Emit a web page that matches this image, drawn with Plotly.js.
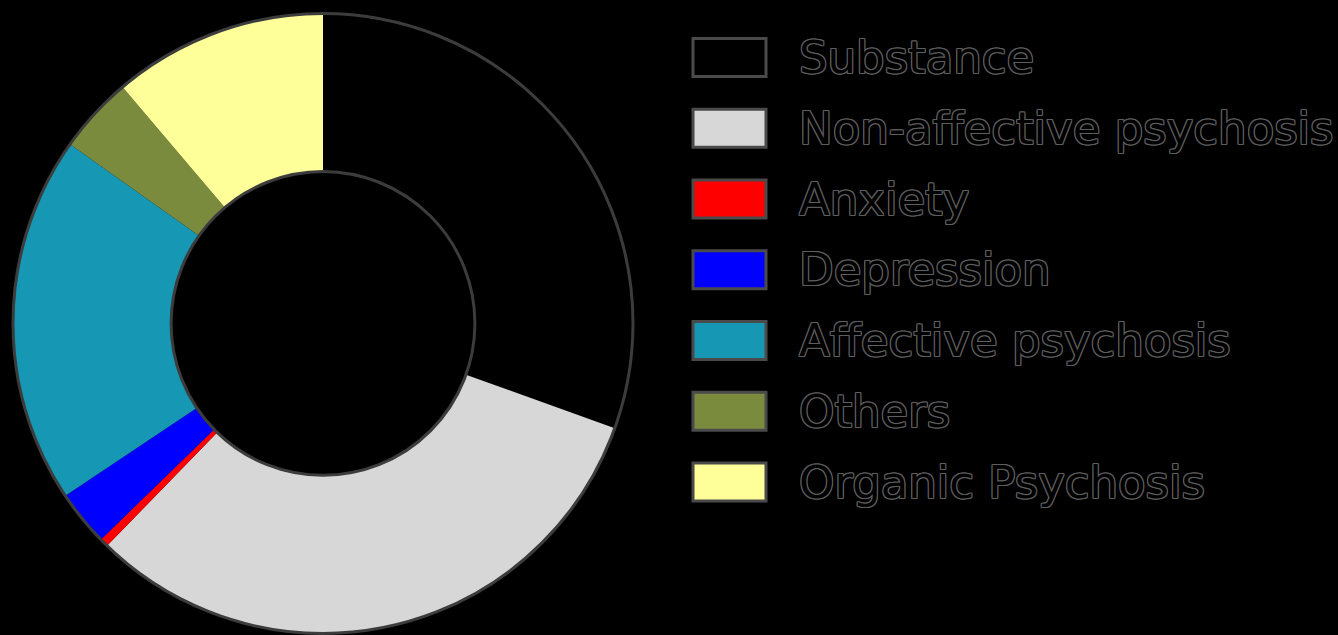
<!DOCTYPE html>
<html>
<head>
<meta charset="utf-8">
<script src="https://cdn.plot.ly/plotly-3.0.1.min.js"></script>
<style>
  html, body { margin: 0; padding: 0; background: #000; }
  #chart { width: 1338px; height: 635px; }
</style>
</head>
<body>
<div id="chart"></div>
<script>
// Diagnostic groups (share of cases, %)
const categories = ["Substance", "Non-affective psychosis", "Anxiety", "Depression",
                    "Affective psychosis", "Others", "Organic Psychosis"];
const shares = [30.5, 31.8, 0.45, 2.9, 19.2, 4.0, 11.2];
const sliceColors = ["#000000", "#d7d7d7", "#ff0000", "#0000ff", "#1697b4", "#7b8b3e", "#ffff99"];

const W = 1338, H = 635;
const pieDomain = { x: [13 / W, 633 / W], y: [0.0024, 0.9788] };

// donut slices
const donut = {
  type: "pie",
  labels: categories,
  values: shares,
  sort: false,
  direction: "clockwise",
  rotation: 0,
  hole: 0.49,
  domain: pieDomain,
  marker: { colors: sliceColors, line: { width: 0 } },
  textinfo: "none",
  hoverinfo: "label+percent",
  showlegend: false
};

// ring outline: one full slice, so only the outer and inner arcs are stroked
const ring = {
  type: "pie",
  labels: ["ring"],
  values: [1],
  sort: false,
  hole: 0.49,
  domain: pieDomain,
  marker: { colors: ["rgba(0,0,0,0)"], line: { color: "#3c3c3c", width: 3 } },
  textinfo: "none",
  hoverinfo: "skip",
  showlegend: false
};

// hand-built legend: large framed swatches with outlined labels
const rowTop = 57.5, rowStep = 70.75;
const swX0 = 693, swX1 = 766, swH = 38, textX = 797;
const outline = "#5e5e5e";
const textShadow = [
  "1px 0 0 " + outline, "-1px 0 0 " + outline, "0 1px 0 " + outline, "0 -1px 0 " + outline,
  "1px 1px 0 " + outline, "-1px -1px 0 " + outline, "1px -1px 0 " + outline, "-1px 1px 0 " + outline
].join(", ");

const shapes = [];
const annotations = [];
categories.forEach((name, i) => {
  const cy = rowTop + i * rowStep;
  shapes.push({
    type: "rect", xref: "paper", yref: "paper",
    x0: swX0 / W, x1: swX1 / W,
    y0: 1 - (cy + swH / 2) / H, y1: 1 - (cy - swH / 2) / H,
    fillcolor: sliceColors[i],
    line: { color: "#4a4a4a", width: 3 }
  });
  annotations.push({
    xref: "paper", yref: "paper",
    x: textX / W, y: 1 - cy / H,
    xanchor: "left", yanchor: "middle",
    showarrow: false,
    text: name,
    font: { family: "DejaVu Sans, Arial, sans-serif", size: 45, color: "#000000", shadow: textShadow }
  });
});

const layout = {
  width: W, height: H,
  margin: { l: 0, r: 0, t: 0, b: 0 },
  paper_bgcolor: "#000000",
  plot_bgcolor: "#000000",
  showlegend: false,
  shapes: shapes,
  annotations: annotations
};

Plotly.newPlot("chart", [donut, ring], layout, { displayModeBar: false, staticPlot: true });
</script>
</body>
</html>
